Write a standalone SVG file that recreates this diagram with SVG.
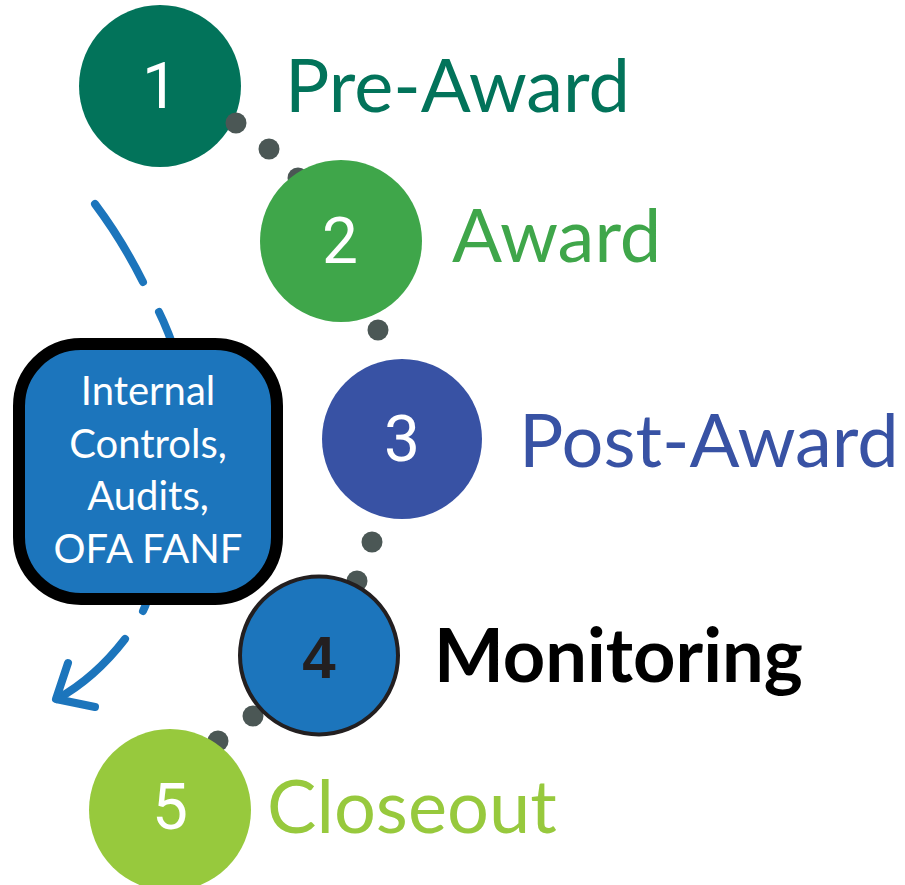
<svg xmlns="http://www.w3.org/2000/svg" width="905" height="885" viewBox="0 0 905 885">
<style>
.dot{fill:#4b5755}
.num{font-family:Roboto,"Liberation Sans",sans-serif;font-size:64px;fill:#fff;text-anchor:middle}
.lbl{font-family:Lato,"Open Sans",sans-serif;font-size:74px}
.blue{fill:none;stroke:#1c75bc;stroke-width:8;stroke-linecap:round;stroke-linejoin:round}
.box{font-family:Lato,"Open Sans",sans-serif;font-size:40px;fill:#fff;text-anchor:middle}
</style>
<rect width="905" height="885" fill="#fff"/>
<g id="feedback-arrow">
<path class="blue" d="M95,204 Q122,240 143,282"/>
<path class="blue" d="M159,312 Q168,330 178,360"/>
<path class="blue" d="M150,590 Q147,603 143,611"/>
<path class="blue" d="M125,639 Q95,678 57,699"/>
<path class="blue" d="M68,663 L56,699 L95,707"/>
</g>
<g id="step1">
<circle cx="160" cy="86" r="81" fill="#02735a"/>
<text class="num" x="160" y="108">1</text>
<text class="lbl" x="285" y="112" fill="#02735a">Pre-Award</text>
</g>
<g id="connectors">
<circle class="dot" cx="236" cy="123" r="10.5"/>
<circle class="dot" cx="269" cy="149" r="10.5"/>
<circle class="dot" cx="298" cy="178" r="10.5"/>
<circle class="dot" cx="378" cy="330" r="10.5"/>
<circle class="dot" cx="372" cy="542" r="10.5"/>
<circle class="dot" cx="357" cy="581" r="10.5"/>
<circle class="dot" cx="253" cy="716" r="10.5"/>
<circle class="dot" cx="218" cy="741" r="10.5"/>
</g>
<g id="step2">
<circle cx="341" cy="241" r="81" fill="#3fa64a"/>
<text class="num" x="340" y="263">2</text>
<text class="lbl" x="452" y="262" fill="#3fa64a">Award</text>
</g>
<g id="step3">
<circle cx="402" cy="439" r="80" fill="#3852a4"/>
<text class="num" x="402" y="461">3</text>
<text class="lbl" x="519" y="467" fill="#3852a4">Post-Award</text>
</g>
<g id="step4">
<circle cx="319" cy="655.5" r="79" fill="#1c75bc" stroke="#231f20" stroke-width="4"/>
<text class="num" x="319" y="678" style="font-family:'Liberation Sans',Arial,sans-serif;font-weight:bold;font-size:60px;fill:#231f20">4</text>
<text class="lbl" x="434" y="682" fill="#000" font-weight="bold" font-size="75">Monitoring</text>
</g>
<g id="step5">
<circle cx="170" cy="810" r="81" fill="#97c93d"/>
<text class="num" x="170" y="829">5</text>
<text class="lbl" x="267" y="833" fill="#97c93d">Closeout</text>
</g>
<g id="internal-controls">
<rect x="19" y="344" width="258" height="255" rx="62" fill="#1c75bc" stroke="#000" stroke-width="12"/>
<text class="box" x="148" y="405">Internal</text>
<text class="box" x="148" y="458">Controls,</text>
<text class="box" x="148" y="510">Audits,</text>
<text class="box" x="148" y="563">OFA FANF</text>
</g>
</svg>
